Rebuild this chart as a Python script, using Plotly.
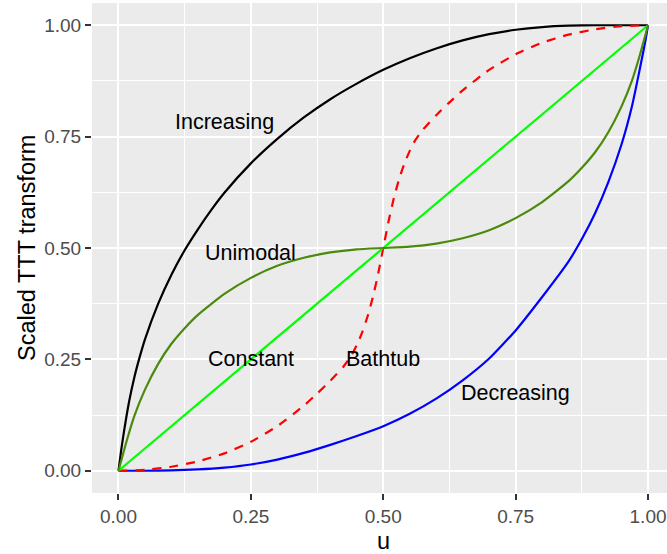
import plotly.graph_objects as go

# Scaled TTT transform curves for the five hazard-rate shapes
u_increasing = [0, 0.005, 0.01, 0.02, 0.03, 0.04, 0.05, 0.075, 0.1, 0.125, 0.15, 0.175, 0.2,
                0.25, 0.3, 0.35, 0.4, 0.45, 0.5, 0.55, 0.6, 0.65, 0.7, 0.75, 0.8, 0.85,
                0.9, 1.0]
v_increasing = [0, 0.045, 0.085, 0.155, 0.21, 0.255, 0.295, 0.375, 0.44, 0.495, 0.542, 0.585,
                0.624, 0.69, 0.745, 0.793, 0.834, 0.869, 0.9, 0.926, 0.948, 0.966, 0.98,
                0.99, 0.996, 0.999, 1.0, 1.0]

u_decreasing = [0, 0.05, 0.1, 0.15, 0.2, 0.25, 0.3, 0.35, 0.4, 0.45, 0.5, 0.55, 0.6, 0.65,
                0.7, 0.75, 0.8, 0.85, 0.875, 0.9, 0.925, 0.95, 0.97, 0.985, 0.995, 1.0]
v_decreasing = [0, 0.0, 0.001, 0.003, 0.007, 0.014, 0.025, 0.04, 0.058, 0.078, 0.1, 0.128,
                0.162, 0.203, 0.252, 0.315, 0.39, 0.47, 0.52, 0.578, 0.648, 0.733, 0.82,
                0.905, 0.965, 1.0]

u_bathtub = [0, 0.05, 0.1, 0.15, 0.2, 0.25, 0.3, 0.35, 0.375, 0.4, 0.425, 0.44, 0.45, 0.46,
             0.47, 0.48, 0.49, 0.5, 0.51, 0.52, 0.53, 0.54, 0.55, 0.56, 0.575, 0.6, 0.625,
             0.65, 0.7, 0.75, 0.8, 0.85, 0.9, 0.95, 1.0]
v_bathtub = [0, 0.002, 0.009, 0.021, 0.039, 0.065, 0.1, 0.146, 0.173, 0.202, 0.234, 0.259,
             0.282, 0.31, 0.345, 0.388, 0.44, 0.5, 0.56, 0.612, 0.655, 0.69, 0.718, 0.741,
             0.766, 0.798, 0.827, 0.854, 0.9, 0.935, 0.961, 0.979, 0.991, 0.998, 1.0]

u_constant = [0, 1.0]
v_constant = [0, 1.0]

u_unimodal = [0, 0.005, 0.015, 0.03, 0.05, 0.075, 0.1, 0.125, 0.15, 0.2, 0.25, 0.3, 0.35,
              0.4, 0.45, 0.5, 0.55, 0.6, 0.65, 0.7, 0.75, 0.8, 0.85, 0.875, 0.9, 0.925,
              0.95, 0.97, 0.985, 0.995, 1.0]
v_unimodal = [0, 0.022, 0.065, 0.123, 0.182, 0.24, 0.285, 0.32, 0.35, 0.397, 0.433, 0.46,
              0.478, 0.49, 0.497, 0.5, 0.503, 0.51, 0.522, 0.54, 0.567, 0.603, 0.65, 0.68,
              0.715, 0.76, 0.818, 0.877, 0.935, 0.978, 1.0]

labels = ["Increasing", "Unimodal", "Constant", "Bathtub", "Decreasing"]
label_u = [0.2, 0.25, 0.25, 0.5, 0.75]
label_v = [0.782, 0.489, 0.25, 0.25, 0.175]

x_ticks = [0, 0.25, 0.5, 0.75, 1.0]
y_ticks = [0, 0.25, 0.5, 0.75, 1.0]

FONT = "Liberation Sans, Arial, sans-serif"
LW = 2.2

fig = go.Figure()
series = [
    (u_increasing, v_increasing, "black", "solid"),
    (u_decreasing, v_decreasing, "#0000FF", "solid"),
    (u_bathtub, v_bathtub, "#FF0000", "9px,8px"),
    (u_constant, v_constant, "#00FF00", "solid"),
    (u_unimodal, v_unimodal, "#4A8A0C", "solid"),
]
for xs, ys, col, dash in series:
    fig.add_trace(go.Scatter(x=xs, y=ys, mode="lines",
                             line=dict(color=col, width=LW, dash=dash, shape="spline",
                                       smoothing=0.5),
                             showlegend=False, hoverinfo="skip"))

for t, x, y in zip(labels, label_u, label_v):
    fig.add_annotation(x=x, y=y, xref="x", yref="y", text=t, showarrow=False,
                       font=dict(family=FONT, size=21.5, color="black"),
                       xanchor="center", yanchor="middle")

# axis titles
fig.add_annotation(x=-0.113, y=0.5, xref="paper", yref="paper", text="Scaled TTT transform",
                   showarrow=False, textangle=-90, xanchor="center", yanchor="middle",
                   font=dict(family=FONT, size=23.5, color="black"))
fig.add_annotation(x=0.5, y=-0.098, xref="x", yref="paper", text="u",
                   showarrow=False, xanchor="center", yanchor="middle",
                   font=dict(family=FONT, size=23.5, color="black"))

axis_common = dict(
    showgrid=True, gridcolor="white", gridwidth=2.2, zeroline=False,
    showline=False, ticks="outside", ticklen=6, tickwidth=1.6, tickcolor="#333333",
    tickfont=dict(family=FONT, size=19, color="#4D4D4D"),
    tickformat=".2f",
    minor=dict(dtick=0.125, tick0=0, showgrid=True, gridcolor="white", gridwidth=1.1,
               ticks=""),
)
fig.update_xaxes(range=[-0.05, 1.0358], tickvals=x_ticks, **axis_common)
fig.update_yaxes(range=[-0.05, 1.05], tickvals=y_ticks, **axis_common)

fig.update_layout(
    width=667, height=554,
    margin=dict(l=92, r=0, t=3, b=61),
    plot_bgcolor="#EBEBEB", paper_bgcolor="white",
    font=dict(family=FONT),
)

fig.write_html("out.html")
